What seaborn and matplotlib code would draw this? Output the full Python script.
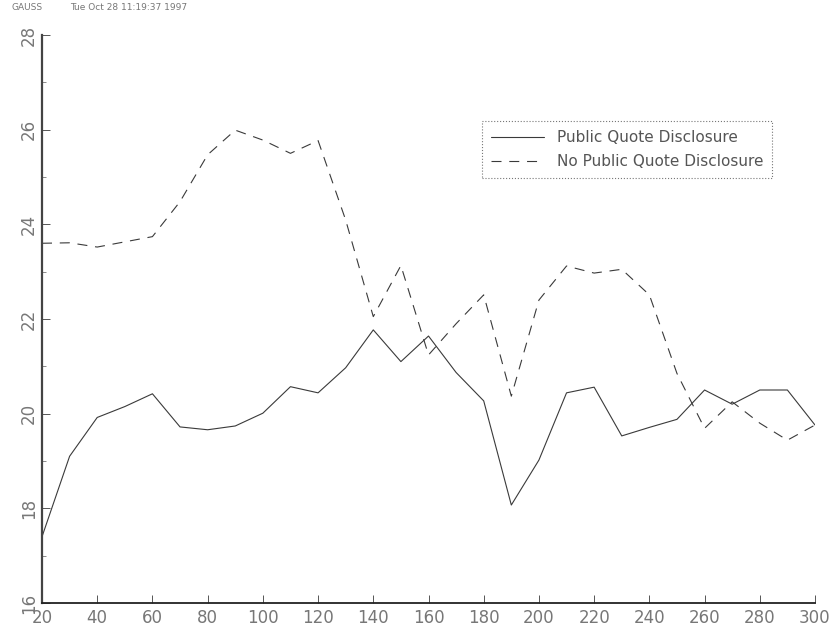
import numpy as np
import pandas as pd
import seaborn as sns
import matplotlib.pyplot as plt
from matplotlib.ticker import MultipleLocator

# dados
x_vals = list(range(20, 301, 10))
public_quote = [17.40, 19.10, 19.92, 20.15, 20.42, 19.72, 19.66, 19.74, 20.01, 20.57,
                20.44, 20.97, 21.77, 21.10, 21.64, 20.87, 20.27, 18.07, 19.02, 20.44,
                20.56, 19.53, 19.71, 19.88, 20.50, 20.20, 20.50, 20.50, 19.76]
no_public_quote = [23.60, 23.61, 23.52, 23.63, 23.74, 24.48, 25.47, 25.99, 25.78, 25.50,
                   25.77, 24.09, 22.05, 23.13, 21.24, 21.90, 22.51, 20.37, 22.40, 23.12,
                   22.97, 23.05, 22.51, 20.85, 19.69, 20.25, 19.80, 19.44, 19.76]
nome_series = ['Public Quote Disclosure', 'No Public Quote Disclosure']

df = pd.DataFrame({
    'x': x_vals * 2,
    'valor': public_quote + no_public_quote,
    'serie': [nome_series[0]] * len(x_vals) + [nome_series[1]] * len(x_vals),
})

sns.set_style('white')
plt.rcParams['font.family'] = ['DejaVu Sans']

fig = plt.figure(figsize=(8.34, 6.37), dpi=100)
ax = fig.add_axes([42 / 834, 1 - 603 / 637, 773 / 834, 568 / 637])

sns.lineplot(
    data=df, x='x', y='valor', hue='serie', style='serie',
    palette={nome_series[0]: '#3a3a3a', nome_series[1]: '#3a3a3a'},
    dashes={nome_series[0]: '', nome_series[1]: (9, 7)},
    linewidth=0.8, ax=ax,
)

ax.set_xlim(20, 300)
ax.set_ylim(16, 28)
ax.set_xlabel('')
ax.set_ylabel('')
ax.xaxis.set_major_locator(MultipleLocator(20))
ax.yaxis.set_major_locator(MultipleLocator(2))
ax.yaxis.set_minor_locator(MultipleLocator(1))

for lado in ['top', 'right']:
    ax.spines[lado].set_visible(False)
ax.spines['left'].set_linewidth(1.6)
ax.spines['left'].set_color('#444444')
ax.spines['bottom'].set_linewidth(1.3)
ax.spines['bottom'].set_color('#222222')

ax.tick_params(axis='x', which='major', bottom=True, direction='in', length=6, width=0.7,
               color='#555555', labelsize=12, labelcolor='#777777', pad=4)
ax.tick_params(axis='y', which='major', left=True, direction='in', length=6, width=0.7,
               color='#555555', labelsize=12, labelcolor='#777777', pad=3)
ax.tick_params(axis='y', which='minor', left=True, direction='in', length=3, width=0.6,
               color='#777777')
ax.tick_params(axis='x', which='minor', bottom=False)
for rotulo in ax.get_yticklabels():
    rotulo.set_rotation(90)
    rotulo.set_va('center')

leg = ax.legend(
    loc='upper left', bbox_to_anchor=(0.569, 0.849), borderaxespad=0,
    fontsize=11, handlelength=3.5, handletextpad=0.8, labelspacing=0.6,
    borderpad=0.6, frameon=True, fancybox=False, title=None,
)
for texto in leg.get_texts():
    texto.set_color('#555555')
leg.get_frame().set_edgecolor('#555555')
leg.get_frame().set_linestyle(':')
leg.get_frame().set_linewidth(0.8)
for linha in leg.get_lines():
    linha.set_linewidth(0.8)

fig.text(12 / 834, 1 - 8 / 637, 'GAUSS', fontsize=6.5, color='#777777', va='center')
fig.text(70 / 834, 1 - 8 / 637, 'Tue Oct 28 11:19:37 1997', fontsize=6.5,
         color='#777777', va='center')

fig.savefig('out.png', dpi=100)
